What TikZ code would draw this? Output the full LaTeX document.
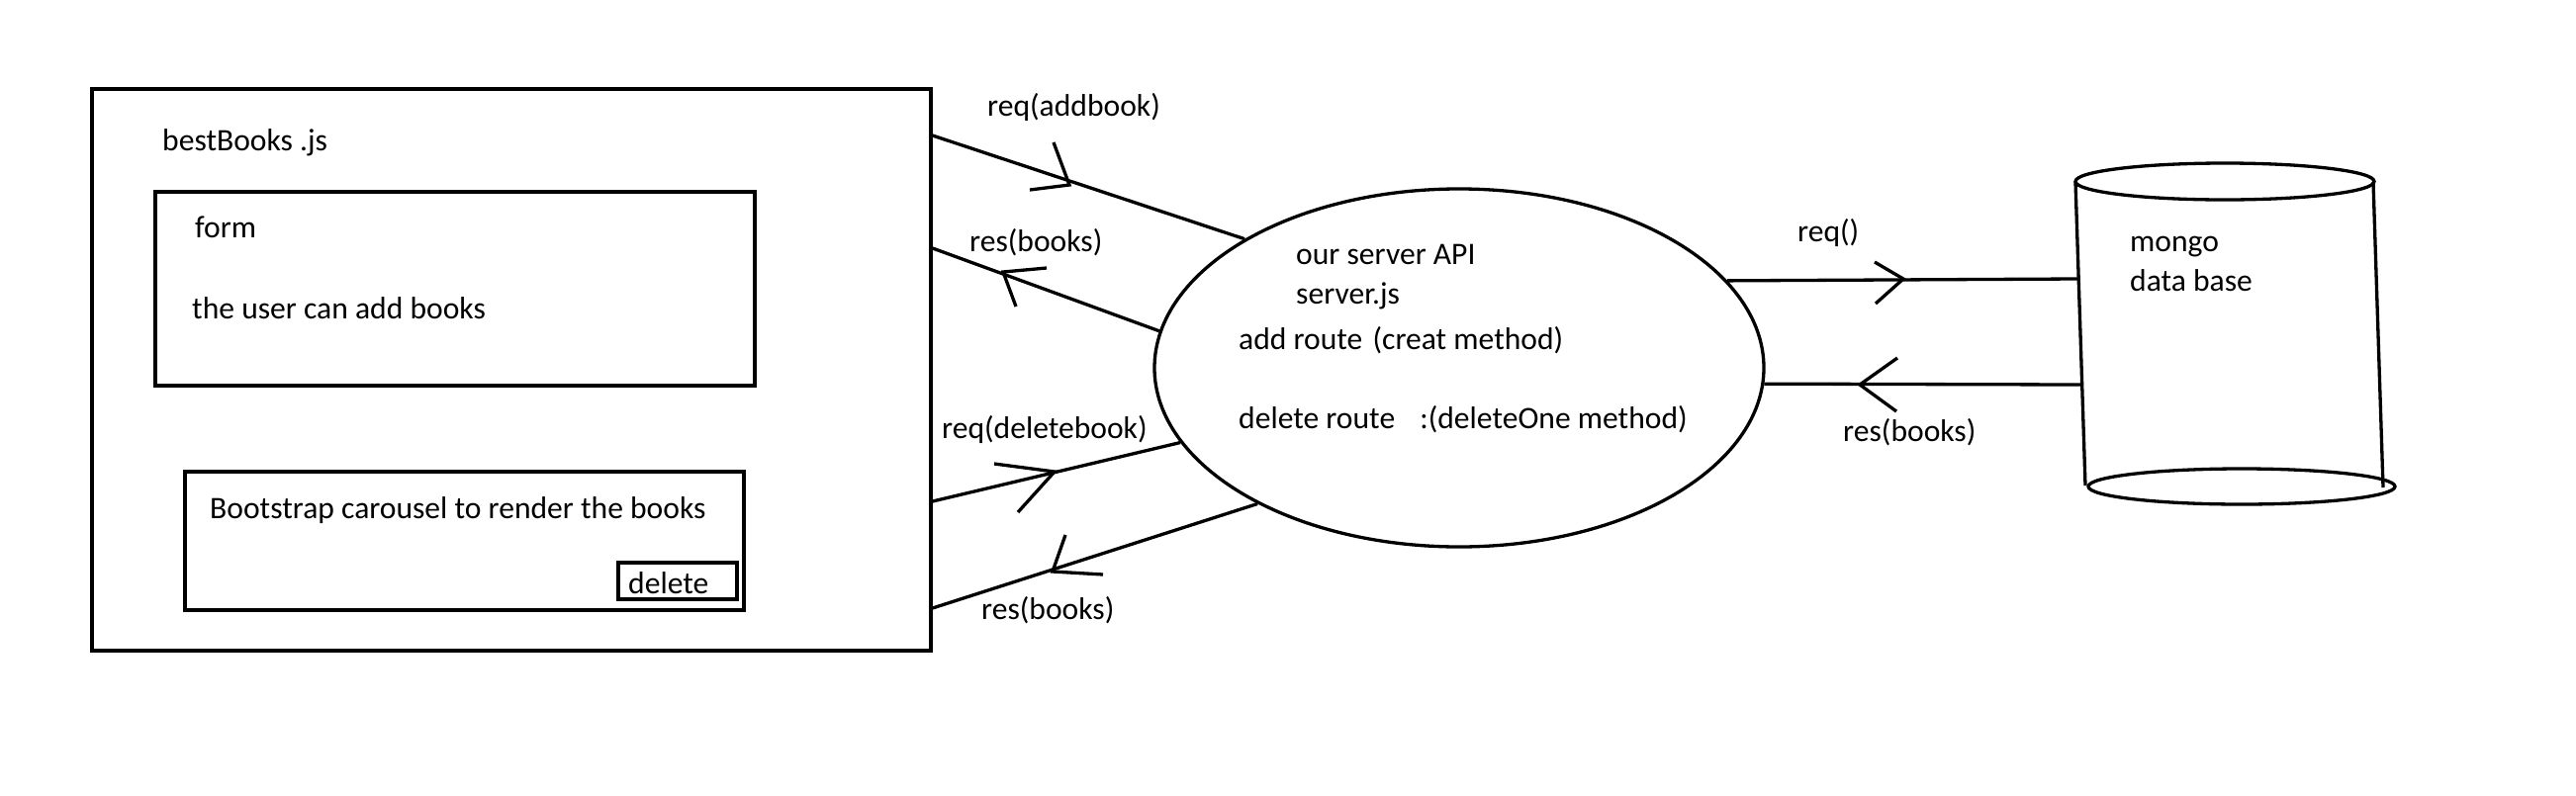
\documentclass[tikz,border=0pt]{standalone}
\usepackage{fontspec}
\setmainfont{Carlito}
\usetikzlibrary{shapes.geometric}
\begin{document}
\begin{tikzpicture}[x=1pt,y=-1pt,
  ln/.style={line width=3.3pt},
  box/.style={draw, line width=3.3pt, rectangle, inner sep=0pt},
  txt/.style={inner sep=0pt, anchor=base west, font=\fontsize{31.6}{38}\selectfont},
  conn/.style={line width=3.3pt},
  head/.style={line width=3.3pt, line join=miter}]
\useasboundingbox (0,0) rectangle (2604,804);

% client side
\node[box, minimum width=848pt, minimum height=568pt] (bb) at (517,374) {};
\node[box, minimum width=606pt, minimum height=196pt] (form) at (460,292) {};
\node[box, minimum width=565pt, minimum height=140pt] (car) at (469.5,547) {};
\node[box, minimum width=120pt, minimum height=37pt] (del) at (685,587.5) {};

\node[txt] (tbb) at (164,152) {bestBooks .js};
\node[txt] (tform) at (197,240) {form};
\node[txt] (tuser) at (194,322) {the user can add books};
\node[txt] (tcar) at (212,524) {Bootstrap carousel to render the books};
\node[txt] (tdel) at (635,600) {delete};

% server
\node[draw, ellipse, line width=3.3pt, inner sep=0pt, minimum width=616pt, minimum height=362pt] (srv) at (1475,372) {};
\node[txt] (ts1) at (1310,267) {our server API};
\node[txt] (ts2) at (1310,307) {server.js};
\node[txt] (ts3) at (1252,353) {add route\hspace{3pt} (creat method)};
\node[txt] (ts4) at (1252,433) {delete route\hspace{18pt} :(deleteOne method)};

% database cylinder
\draw[ln] (2249,183.5) ellipse [x radius=151, y radius=18.5];
\draw[ln] (2266,492) ellipse [x radius=155, y radius=18];
\draw[ln] (2098,184) -- (2108,491);
\draw[ln] (2399,184) -- (2409,493);
\coordinate (dbA) at (2100,282);
\coordinate (dbB) at (2103,389);
\node[txt] (tm1) at (2153,254) {mongo};
\node[txt] (tm2) at (2153,294) {data base};

% connectors
\draw[conn] (bb.east |- 0,137) -- (srv.149.8);
\draw[conn] (srv.173.1) -- (bb.east |- 0,251);
\draw[conn] (bb.east |- 0,507) -- (srv.195.05);
\draw[conn] (srv.214.1) -- (bb.east |- 0,615);
\draw[conn] (srv.18.4) -- (dbA);
\draw[conn] (dbB) -- (srv.357.1);

% hand-drawn arrow heads
\draw[head] (1065,144) -- (1081,187) -- (1041,192);
\draw[head] (1058,271) -- (1014,275) -- (1027,310);
\draw[head] (1005,469) -- (1066,477) -- (1029,518);
\draw[head] (1077,541) -- (1064,578) -- (1115,581);
\draw[head] (1895,265) -- (1924,282) -- (1896,307);
\draw[head] (1918,362) -- (1880,389) -- (1917,416);

% connector labels
\node[txt] (l1) at (998,117) {req(addbook)};
\node[txt] (l2) at (980,254) {res(books)};
\node[txt] (l3) at (952,443) {req(deletebook)};
\node[txt] (l4) at (992,626) {res(books)};
\node[txt] (l5) at (1817,244) {req()};
\node[txt] (l6) at (1863,446) {res(books)};
\end{tikzpicture}
\end{document}
